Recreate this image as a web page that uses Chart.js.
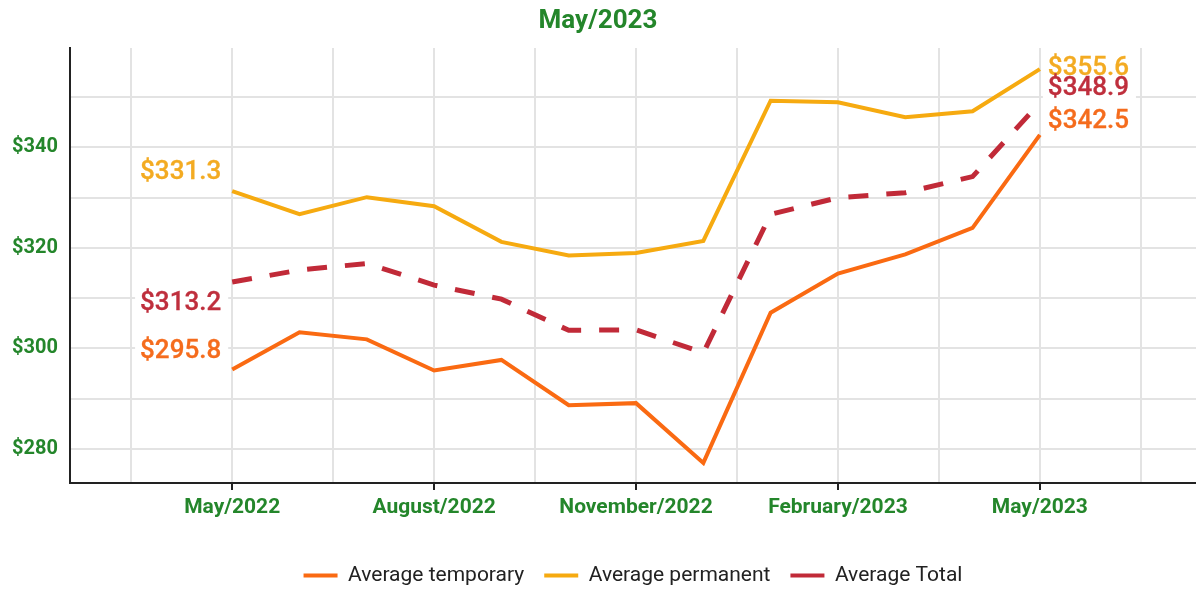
<!DOCTYPE html>
<html>
<head>
<meta charset="utf-8">
<script src="https://cdn.jsdelivr.net/npm/chart.js@4"></script>
<style>
html,body{margin:0;padding:0;background:#fff;overflow:hidden;}
#wrap{width:1196px;height:596px;position:relative;}
</style>
</head>
<body>
<div id="wrap"><canvas id="c"></canvas></div>
<script>
// ---- data ----
const months = ['May/2022','Jun/2022','Jul/2022','Aug/2022','Sep/2022','Oct/2022','Nov/2022','Dec/2022','Jan/2023','Feb/2023','Mar/2023','Apr/2023','May/2023'];
const avgTemporary = [295.8, 303.2, 301.8, 295.6, 297.7, 288.7, 289.1, 277.2, 307.1, 314.9, 318.7, 324.0, 342.5];
const avgPermanent = [331.3, 326.7, 330.1, 328.3, 321.2, 318.5, 319.0, 321.4, 349.3, 349.0, 346.0, 347.2, 355.6];
const avgTotal     = [313.2, 315.6, 316.9, 312.6, 309.8, 303.6, 303.7, 299.1, 326.7, 330.0, 331.0, 334.2, 348.9];
const xTickMonths  = [0, 3, 6, 9, 12];
const xTickLabels  = ['May/2022','August/2022','November/2022','February/2023','May/2023'];
const xGridMonths  = [-1.5, 0, 1.5, 3, 4.5, 6, 7.5, 9, 10.5, 12, 13.5];
const yGridValues  = [280, 290, 300, 310, 320, 330, 340, 350];
const yTickStep    = 20;
const seriesNames  = ['Average temporary', 'Average permanent', 'Average Total'];
const titleText    = 'May/2023';

// ---- styles ----
const C_TEMP = '#fa6a12';
const C_PERM = '#f6aa10';
const C_TOT  = '#c12a38';
const GREEN  = '#24862b';
const FONT   = "Roboto, 'Noto Sans', sans-serif";

const toPts = arr => arr.map((v, i) => ({x: i, y: v}));

const endLabelCfg = [
  {firstDy: -18, lastDy: -13, color: '#f56c1d'},  // temporary
  {firstDy: -19, lastDy: -1,  color: '#f3ab22'},  // permanent
  {firstDy: 21,  lastDy: -14, color: '#bf2f3d'}   // total
];

const endLabels = {
  id: 'endLabels',
  afterDatasetsDraw(chart) {
    const ctx = chart.ctx;
    ctx.save();
    ctx.font = "500 26px " + FONT;
    ctx.textBaseline = 'middle';
    const items = [];
    chart.data.datasets.forEach((ds, di) => {
      const pts = chart.getDatasetMeta(di).data;
      const cfg = endLabelCfg[di];
      const f = pts[0], l = pts[pts.length - 1];
      const ft = '$' + ds.data[0].y.toFixed(1);
      const lt = '$' + ds.data[ds.data.length - 1].y.toFixed(1);
      const fw = ctx.measureText(ft).width, lw = ctx.measureText(lt).width;
      items.push({t: ft, x: f.x - 11 - fw, y: f.y + cfg.firstDy, w: fw, c: cfg.color});
      items.push({t: lt, x: l.x + 8, y: l.y + cfg.lastDy, w: lw, c: cfg.color});
    });
    ctx.fillStyle = '#ffffff';
    items.forEach(it => ctx.fillRect(it.x - 5, it.y - 14, it.w + 12, 28));
    ctx.textAlign = 'left';
    ctx.lineWidth = 0.3;
    items.forEach(it => {
      ctx.fillStyle = it.c;
      ctx.strokeStyle = it.c;
      ctx.fillText(it.t, it.x, it.y);
      ctx.strokeText(it.t, it.x, it.y);
    });
    ctx.restore();
  }
};

new Chart(document.getElementById('c'), {
  type: 'line',
  data: {
    datasets: [
      {label: seriesNames[0], data: toPts(avgTemporary), borderColor: C_TEMP, backgroundColor: C_TEMP, borderWidth: 4, pointRadius: 0, tension: 0},
      {label: seriesNames[1], data: toPts(avgPermanent), borderColor: C_PERM, backgroundColor: C_PERM, borderWidth: 4, pointRadius: 0, tension: 0},
      {label: seriesNames[2], data: toPts(avgTotal), borderColor: C_TOT, backgroundColor: C_TOT, borderWidth: 5, borderDash: [20, 18], pointRadius: 0, tension: 0}
    ]
  },
  options: {
    responsive: true,
    maintainAspectRatio: false,
    animation: false,
    layout: {padding: {left: 0, right: 0, top: 0, bottom: 0}},
    scales: {
      x: {
        type: 'linear',
        min: -2.41,
        max: 14.32,
        afterBuildTicks: s => { s.ticks = xGridMonths.map(v => ({value: v})); },
        afterFit: s => { s.height = 62; },
        border: {display: true, color: '#222', width: 2},
        grid: {
          color: '#e3e3e3',
          lineWidth: 2,
          tickLength: 7,
          tickWidth: 2,
          tickColor: c => xTickMonths.includes(c.tick && c.tick.value) ? '#222' : 'rgba(0,0,0,0)'
        },
        ticks: {
          autoSkip: false,
          maxRotation: 0,
          padding: 5,
          color: GREEN,
          font: {family: FONT, size: 21, weight: 'bold'},
          callback: v => { const k = xTickMonths.indexOf(v); return k >= 0 ? xTickLabels[k] : ''; }
        }
      },
      y: {
        min: 273.2,
        max: 359.8,
        afterBuildTicks: s => { s.ticks = yGridValues.map(v => ({value: v})); },
        afterFit: s => { s.width = 70; },
        border: {display: true, color: '#222', width: 2},
        grid: {color: '#e3e3e3', lineWidth: 2, drawTicks: false},
        ticks: {
          padding: 12,
          color: GREEN,
          font: {family: FONT, size: 20, weight: 'bold'},
          callback: v => (v % yTickStep === 0) ? '$' + v : ''
        }
      }
    },
    plugins: {
      title: {
        display: true,
        text: titleText,
        color: GREEN,
        font: {family: FONT, size: 26, weight: 'bold'},
        padding: {top: 6, bottom: 10.8}
      },
      legend: {
        position: 'bottom',
        fullSize: false,
        labels: {
          boxWidth: 34,
          boxHeight: 4,
          padding: 20,
          color: '#222',
          font: {family: FONT, size: 21},
          generateLabels: chart => chart.data.datasets.map((ds, i) => ({
            text: ds.label,
            fillStyle: ds.borderColor,
            strokeStyle: ds.borderColor,
            lineWidth: 0,
            hidden: false,
            datasetIndex: i,
            fontColor: '#222'
          }))
        }
      },
      tooltip: {enabled: false}
    }
  },
  plugins: [endLabels]
});
</script>
</body>
</html>
